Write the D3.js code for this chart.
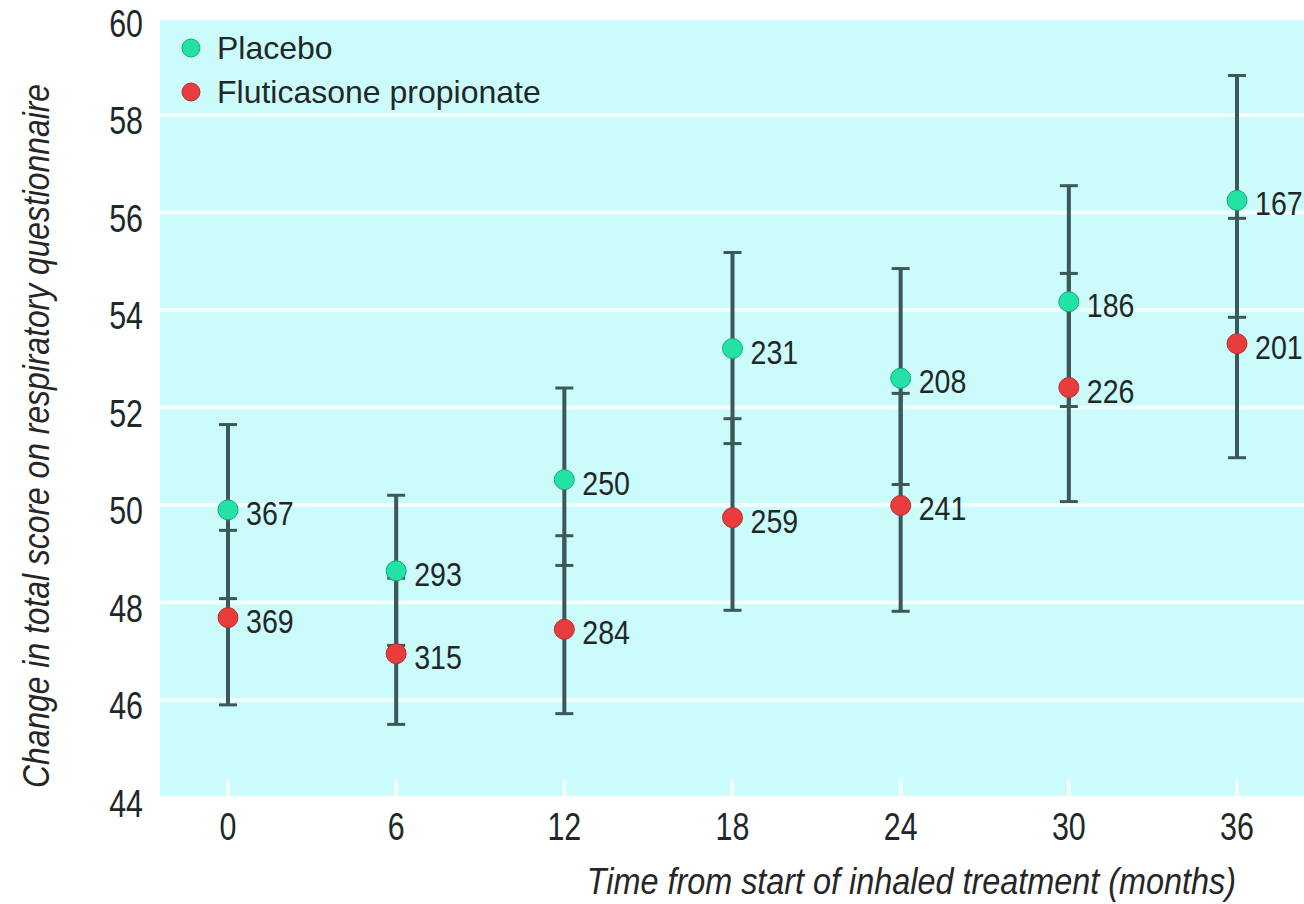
<!DOCTYPE html>
<html>
<head>
<meta charset="utf-8">
<script src="https://cdn.jsdelivr.net/npm/d3@7"></script>
<style>
  body { margin: 0; background: #ffffff; }
  .num { font-family: "Liberation Sans", Arial, sans-serif; fill: #1e2828; }
  .title { font-family: "Liberation Sans", Arial, sans-serif; font-style: italic; fill: #262626; }
  .legend { font-family: "Liberation Sans", Arial, sans-serif; fill: #1e2828; }
</style>
</head>
<body>
<div id="vis"></div>
<script>
// data
const MONTHS = [0, 6, 12, 18, 24, 30, 36];
const Y_TICKS = [44, 46, 48, 50, 52, 54, 56, 58, 60];

const PLACEBO_MEAN = [49.9, 48.65, 50.52, 53.21, 52.6, 54.17, 56.25];
const PLACEBO_LOW  = [48.08, 47.12, 48.76, 51.26, 50.42, 52.02, 53.85];
const PLACEBO_HIGH = [51.65, 50.2, 52.4, 55.18, 54.85, 56.55, 58.81];
const PLACEBO_N    = [367, 293, 250, 231, 208, 186, 167];

const FLUTI_MEAN = [47.69, 46.95, 47.45, 49.74, 49.99, 52.41, 53.31];
const FLUTI_LOW  = [45.9, 45.5, 45.72, 47.84, 47.82, 50.07, 50.97];
const FLUTI_HIGH = [49.48, 48.5, 49.37, 51.77, 52.29, 54.75, 55.88];
const FLUTI_N    = [369, 315, 284, 259, 241, 226, 201];

const SERIES = [
  {name: "Placebo", color: "#22e2a6", stroke: "#1aa67c", mean: PLACEBO_MEAN, low: PLACEBO_LOW, high: PLACEBO_HIGH, n: PLACEBO_N},
  {name: "Fluticasone propionate", color: "#ea3c3c", stroke: "#b03030", mean: FLUTI_MEAN, low: FLUTI_LOW, high: FLUTI_HIGH, n: FLUTI_N}
];

// frame
const FRAME_WIDTH = 1304;
const FRAME_HEIGHT = 904;
const PLOT = {left: 160, right: 1304, top: 20, bottom: 796};

const FRAME = d3.select("#vis")
                .append("svg")
                  .attr("width", FRAME_WIDTH)
                  .attr("height", FRAME_HEIGHT);

// the original type is a condensed sans, so squeeze the text horizontally
function narrow(sel, factor) {
  sel.each(function() {
    const w = this.getComputedTextLength();
    d3.select(this)
      .attr("textLength", w * factor)
      .attr("lengthAdjust", "spacingAndGlyphs");
  });
}

// scales
const X_SCALE = d3.scaleLinear()
                  .domain([0, 36])
                  .range([228, 1237]);

const Y_SCALE = d3.scaleLinear()
                  .domain([44, 60])
                  .range([797.5, 17.5]);

// plot background
FRAME.append("rect")
     .attr("x", PLOT.left)
     .attr("y", PLOT.top)
     .attr("width", PLOT.right - PLOT.left)
     .attr("height", PLOT.bottom - PLOT.top)
     .attr("fill", "#ccfbfb");

// white gridlines
FRAME.selectAll(".grid")
     .data(Y_TICKS.filter((d) => { return d > 44 && d < 60; }))
     .enter()
     .append("line")
       .attr("x1", PLOT.left)
       .attr("x2", PLOT.right)
       .attr("y1", (d) => { return Y_SCALE(d); })
       .attr("y2", (d) => { return Y_SCALE(d); })
       .attr("stroke", "#f2ffff")
       .attr("stroke-width", 4);

// small white ticks along the bottom edge
FRAME.selectAll(".xtick")
     .data(MONTHS)
     .enter()
     .append("line")
       .attr("x1", (d) => { return X_SCALE(d); })
       .attr("x2", (d) => { return X_SCALE(d); })
       .attr("y1", PLOT.bottom - 17)
       .attr("y2", PLOT.bottom)
       .attr("stroke", "#f2ffff")
       .attr("stroke-width", 4);

// y tick labels
FRAME.selectAll(".ylab")
     .data(Y_TICKS)
     .enter()
     .append("text")
       .attr("class", "num")
       .attr("x", 143)
       .attr("y", (d) => { return Y_SCALE(d) + 6; })
       .attr("text-anchor", "end")
       .attr("dominant-baseline", "central")
       .attr("font-size", 38)
       .text((d) => { return d; })
       .call(narrow, 0.8);

// x tick labels
FRAME.selectAll(".xlab")
     .data(MONTHS)
     .enter()
     .append("text")
       .attr("class", "num")
       .attr("x", (d) => { return X_SCALE(d); })
       .attr("y", 840)
       .attr("text-anchor", "middle")
       .attr("font-size", 38)
       .text((d) => { return d; })
       .call(narrow, 0.8);

// axis titles
FRAME.append("text")
     .attr("class", "title")
     .attr("x", 1236)
     .attr("y", 894)
     .attr("text-anchor", "end")
     .attr("font-size", 37)
     .text("Time from start of inhaled treatment (months)")
     .call(narrow, 0.875);

FRAME.append("text")
     .attr("class", "title")
     .attr("transform", "translate(36,436) rotate(-90)")
     .attr("text-anchor", "middle")
     .attr("dominant-baseline", "central")
     .attr("font-size", 37)
     .text("Change in total score on respiratory questionnaire")
     .call(narrow, 0.86);

// error bars (both series first, dots on top)
const CAP = 9;
SERIES.forEach((s) => {
  const g = FRAME.append("g")
                 .attr("stroke", "#3c5858");
  g.selectAll("line.bar")
   .data(MONTHS)
   .enter()
   .append("line")
     .attr("x1", (d) => { return X_SCALE(d); })
     .attr("x2", (d) => { return X_SCALE(d); })
     .attr("y1", (d, i) => { return Y_SCALE(s.low[i]); })
     .attr("y2", (d, i) => { return Y_SCALE(s.high[i]); })
     .attr("stroke-width", 4);
  [s.low, s.high].forEach((ends) => {
    g.selectAll(null)
     .data(MONTHS)
     .enter()
     .append("line")
       .attr("x1", (d) => { return X_SCALE(d) - CAP; })
       .attr("x2", (d) => { return X_SCALE(d) + CAP; })
       .attr("y1", (d, i) => { return Y_SCALE(ends[i]); })
       .attr("y2", (d, i) => { return Y_SCALE(ends[i]); })
       .attr("stroke-width", 3);
  });
});

// points and counts
SERIES.forEach((s) => {
  FRAME.selectAll(null)
       .data(MONTHS)
       .enter()
       .append("circle")
         .attr("cx", (d) => { return X_SCALE(d); })
         .attr("cy", (d, i) => { return Y_SCALE(s.mean[i]); })
         .attr("r", 10)
         .attr("fill", s.color)
         .attr("stroke", s.stroke)
         .attr("stroke-width", 1);

  FRAME.selectAll(null)
       .data(MONTHS)
       .enter()
       .append("text")
         .attr("class", "num")
         .attr("x", (d) => { return X_SCALE(d) + 18; })
         .attr("y", (d, i) => { return Y_SCALE(s.mean[i]) + 3; })
         .attr("dominant-baseline", "central")
         .attr("font-size", 34)
         .text((d, i) => { return s.n[i]; })
         .call(narrow, 0.84);
});

// legend
const LEGEND = FRAME.selectAll(".legend-item")
                    .data(SERIES)
                    .enter()
                    .append("g")
                      .attr("transform", (d, i) => { return "translate(191," + (48 + i * 44) + ")"; });

LEGEND.append("circle")
      .attr("r", 9)
      .attr("fill", (d) => { return d.color; })
      .attr("stroke", (d) => { return d.stroke; })
      .attr("stroke-width", 1);

LEGEND.append("text")
      .attr("class", "legend")
      .attr("x", 26)
      .attr("dominant-baseline", "central")
      .attr("font-size", 32)
      .text((d) => { return d.name; });
</script>
</body>
</html>
